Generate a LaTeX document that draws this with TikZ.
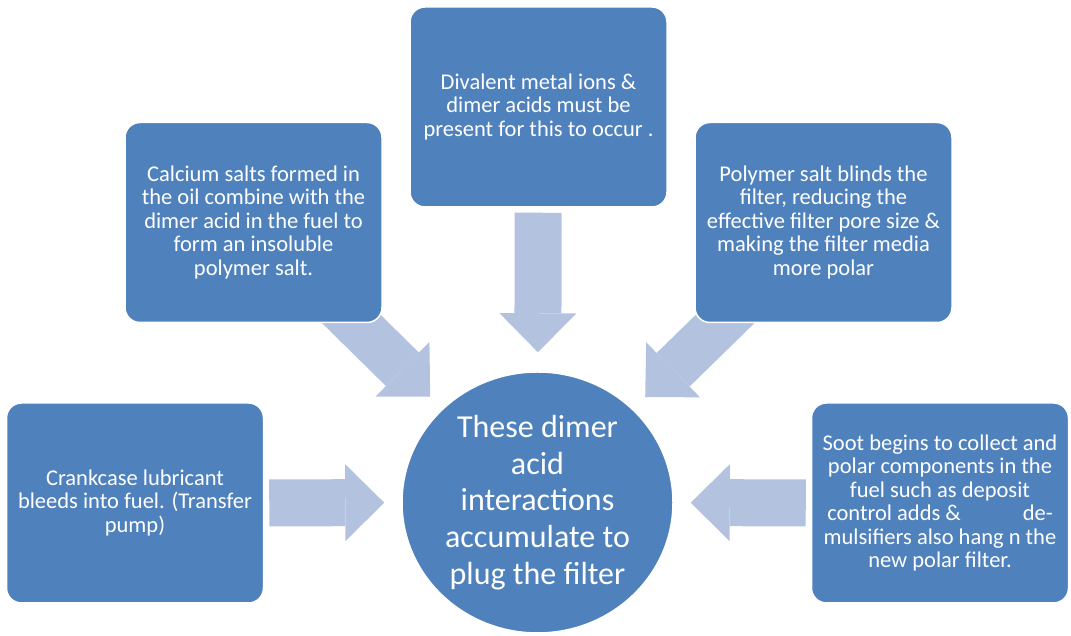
\documentclass[tikz,border=0pt]{standalone}
\usepackage{fontspec}
\setmainfont{Carlito}
\usetikzlibrary{arrows.meta}
\usetikzlibrary{shapes.geometric,backgrounds}
\definecolor{boxblue}{HTML}{4F81BD}
\definecolor{flowblue}{HTML}{B3C3DF}

\begin{document}
\begin{tikzpicture}[x=1pt,y=1pt,>={Triangle[length=39pt,width=77pt,line width=0pt]},
  box/.style={rectangle,rounded corners=15pt,draw=white,line width=1.5pt,fill=boxblue,text=white,
    minimum width=257pt,minimum height=200pt,align=center,font=\fontsize{22.5}{23.5}\selectfont},
  hubshape/.style={ellipse,draw=white,line width=1.5pt,fill=boxblue,text=white,
    minimum width=271pt,minimum height=261pt,align=center,font=\fontsize{32}{36.6}\selectfont},
  flow/.style={->,draw=flowblue,line width=47pt}]
\useasboundingbox (0,0) rectangle (1071,636);

\node[box](top) at (538.5,529) {Divalent metal ions \&\\dimer acids must be\\present for this to occur .};
\node[box](calcium) at (253.5,413.5) {Calcium salts formed in\\the oil combine with the\\dimer acid in the fuel to\\form an insoluble\\polymer salt.};
\node[box](blinds) at (823.5,413.5) {Polymer salt blinds the\\filter, reducing the\\effective filter pore size \&\\making the filter media\\more polar};
\node[box](crank) at (135,133) {Crankcase lubricant\\bleeds into fuel. (Transfer\\pump)};
\node[box](soot) at (940,133) {Soot begins to collect and\\polar components in the\\fuel such as deposit\\control adds \&\hspace{62pt}de-\\mulsifiers also hang n the\\new polar filter.};
\node[hubshape](hub) at (537.5,133.5) {These dimer\\acid\\interactions\\accumulate to\\plug the filter};

\begin{pgfonlayer}{background}
\draw[flow,shorten <=5pt,shorten >=17pt] (crank) -- (hub);
\draw[flow,shorten <=5pt,shorten >=17pt] (soot) -- (hub);
\draw[flow,shorten <=5pt,shorten >=19pt] (top) -- (hub);
\draw[flow,shorten <=-25pt,shorten >=17pt] (calcium) -- (hub);
\draw[flow,shorten <=-25pt,shorten >=17pt] (blinds) -- (hub);
\end{pgfonlayer}
\end{tikzpicture}
\end{document}
